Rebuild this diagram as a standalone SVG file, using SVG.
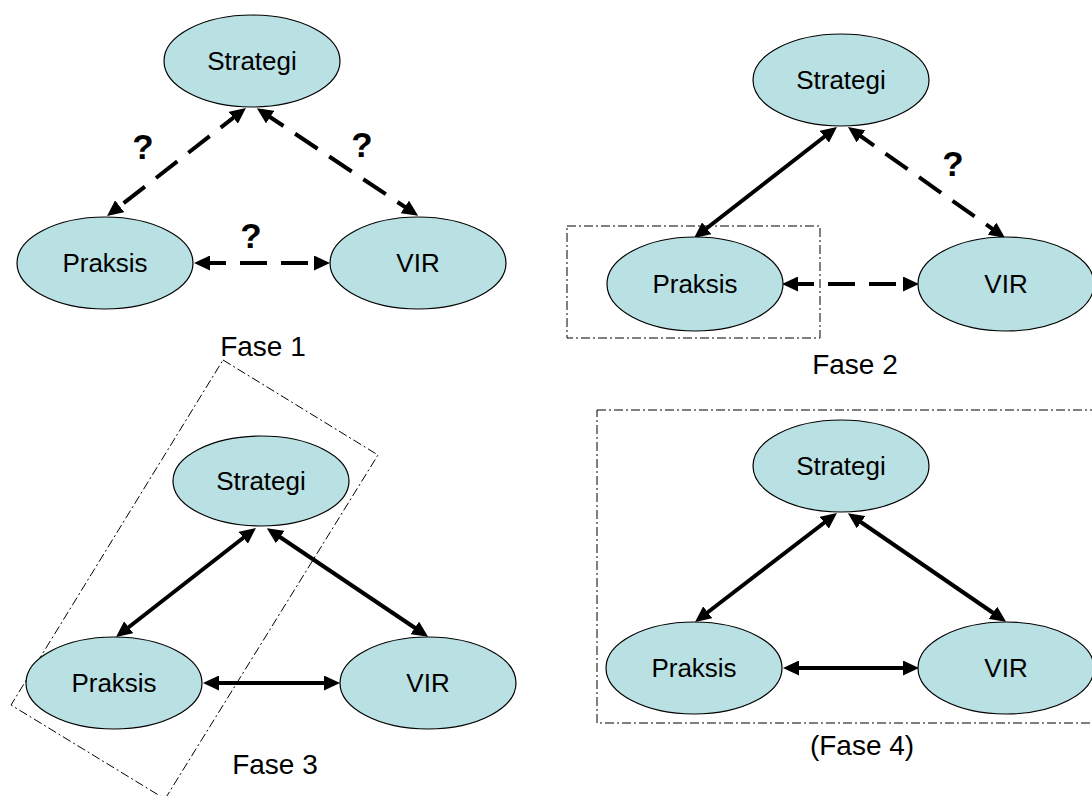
<svg xmlns="http://www.w3.org/2000/svg" width="1092" height="796" viewBox="0 0 1092 796">
  <style>
    .node ellipse { fill: #b9e0e2; stroke: #000; stroke-width: 1.2; }
    .node text, .label { font-family: "Liberation Sans", Arial, sans-serif; fill: #000; text-anchor: middle; }
    .node text { font-size: 26px; }
    .label { font-size: 28px; }
    .q { font-family: "Liberation Sans", Arial, sans-serif; font-weight: bold; font-size: 35px; text-anchor: middle; }
    .link { stroke: #000; stroke-width: 4; fill: none; marker-start: url(#head); marker-end: url(#head); }
    .dashed { stroke-dasharray: 27 14; }
    .frame { fill: none; stroke: #000; stroke-width: 1; stroke-dasharray: 9 3 2 3; }
  </style>
  <defs>
    <marker id="head" markerUnits="userSpaceOnUse" markerWidth="17" markerHeight="15" viewBox="0 0 17 15" refX="11" refY="7.5" orient="auto-start-reverse">
      <path d="M0,0 L16,7.5 L0,15 z" fill="#000"/>
    </marker>
  </defs>

  <rect id="frame-2" class="frame" x="567" y="226" width="253" height="112"/>
  <polygon id="frame-3" class="frame" points="223,360 378,455 165,799 11,705"/>
  <rect id="frame-4" class="frame" x="597" y="410" width="498" height="313"/>

  <g id="connectors">
    <!-- Fase 1 -->
    <line class="link dashed" x1="242" y1="111" x2="111" y2="213"/>
    <line class="link dashed" x1="261" y1="111" x2="414" y2="213"/>
    <line class="link dashed" x1="199" y1="263" x2="325" y2="263"/>
    <!-- Fase 2 -->
    <line class="link" x1="833" y1="130" x2="698" y2="235"/>
    <line class="link dashed" x1="852" y1="130" x2="1001" y2="235"/>
    <line class="link dashed" x1="787" y1="284" x2="914" y2="284"/>
    <!-- Fase 3 -->
    <line class="link" x1="252" y1="531" x2="120" y2="634"/>
    <line class="link" x1="271" y1="531" x2="424" y2="634"/>
    <line class="link" x1="208" y1="683" x2="335" y2="683"/>
    <!-- Fase 4 -->
    <line class="link" x1="833" y1="516" x2="699" y2="619"/>
    <line class="link" x1="852" y1="516" x2="1002" y2="619"/>
    <line class="link" x1="788" y1="668" x2="914" y2="668"/>
  </g>

  <!-- Fase 1 -->
  <g id="f1-strategi" class="node"><ellipse cx="252" cy="61" rx="88" ry="46"/><text x="252" y="70">Strategi</text></g>
  <g id="f1-praksis" class="node"><ellipse cx="105" cy="263" rx="88" ry="46"/><text x="105" y="272">Praksis</text></g>
  <g id="f1-vir" class="node"><ellipse cx="418" cy="263" rx="88" ry="46"/><text x="418" y="272">VIR</text></g>
  <text class="q" x="143" y="159">?</text>
  <text class="q" x="362" y="157">?</text>
  <text class="q" x="251" y="248">?</text>
  <text class="label" x="263" y="356">Fase 1</text>

  <!-- Fase 2 -->
  <g id="f2-strategi" class="node"><ellipse cx="841" cy="80" rx="88" ry="46"/><text x="841" y="89">Strategi</text></g>
  <g id="f2-praksis" class="node"><ellipse cx="695" cy="284" rx="88" ry="47"/><text x="695" y="293">Praksis</text></g>
  <g id="f2-vir" class="node"><ellipse cx="1006" cy="284" rx="88" ry="47"/><text x="1006" y="293">VIR</text></g>
  <text class="q" x="953" y="176">?</text>
  <text class="label" x="855" y="374">Fase 2</text>

  <!-- Fase 3 -->
  <g id="f3-strategi" class="node"><ellipse cx="261" cy="481" rx="88" ry="45"/><text x="261" y="490">Strategi</text></g>
  <g id="f3-praksis" class="node"><ellipse cx="114" cy="683" rx="88" ry="46"/><text x="114" y="692">Praksis</text></g>
  <g id="f3-vir" class="node"><ellipse cx="428" cy="683" rx="88" ry="46"/><text x="428" y="692">VIR</text></g>
  <text class="label" x="275" y="774">Fase 3</text>

  <!-- Fase 4 -->
  <g id="f4-strategi" class="node"><ellipse cx="841" cy="466" rx="88" ry="46"/><text x="841" y="475">Strategi</text></g>
  <g id="f4-praksis" class="node"><ellipse cx="694" cy="668" rx="88" ry="46"/><text x="694" y="677">Praksis</text></g>
  <g id="f4-vir" class="node"><ellipse cx="1006" cy="668" rx="88" ry="46"/><text x="1006" y="677">VIR</text></g>
  <text class="label" x="862" y="755">(Fase 4)</text>
</svg>
